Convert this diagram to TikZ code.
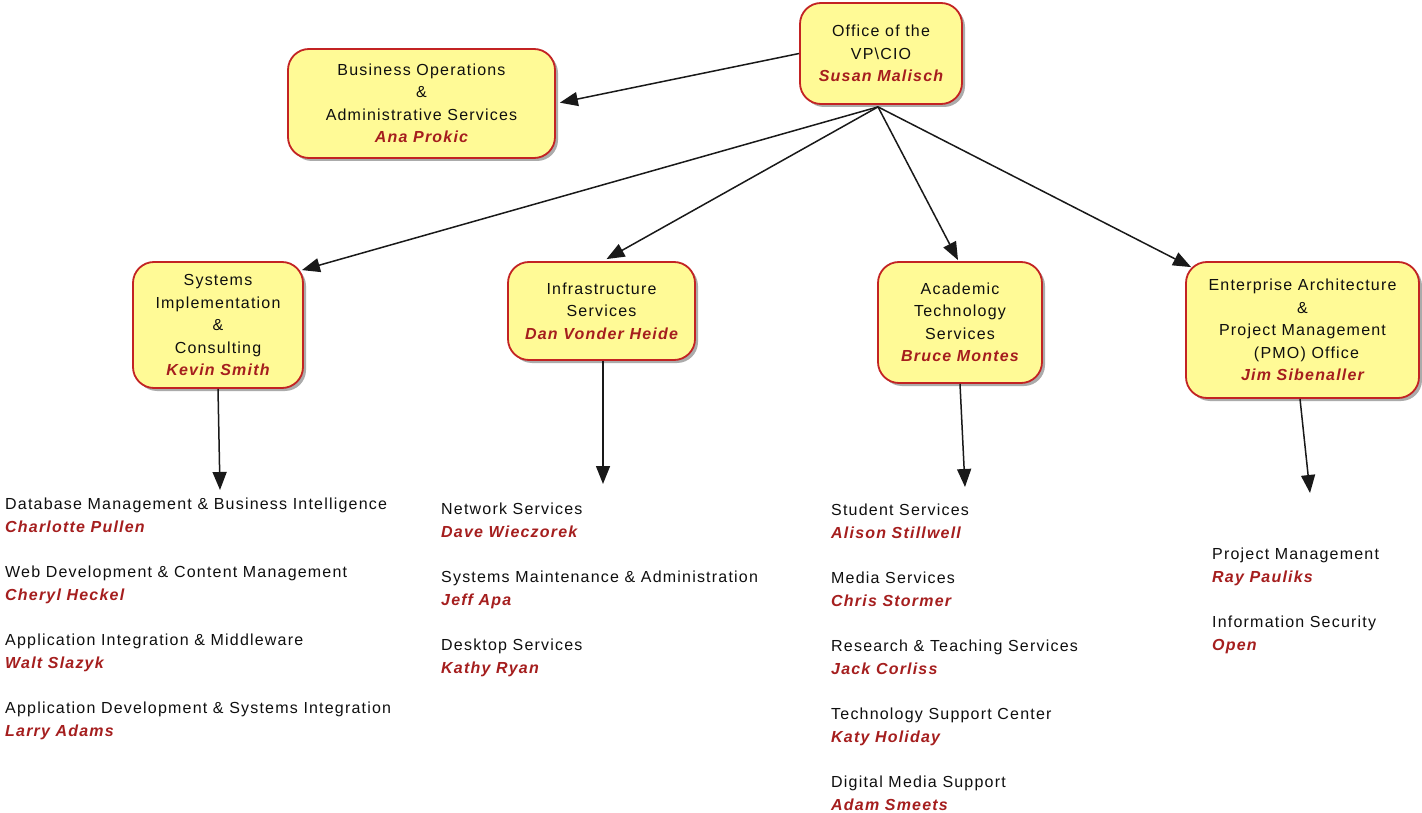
\documentclass[tikz,border=0pt]{standalone}
\usepackage{fontspec}
\setmainfont{Liberation Sans}[LetterSpace=7.5]
\usetikzlibrary{arrows.meta,shadows,calc}
\definecolor{boxfill}{RGB}{255,250,150}
\definecolor{boxred}{RGB}{195,35,35}
\definecolor{namered}{RGB}{165,30,30}
\definecolor{txt}{RGB}{15,15,15}
\newcommand{\nm}[1]{\textcolor{namered}{\bfseries\itshape #1}}
\begin{document}
\begin{tikzpicture}[x=1pt,y=-1pt,
  txtfont/.style={font=\fontsize{16}{22.5}\selectfont, text=txt},
  box/.style={draw=boxred, line width=1.8pt, fill=boxfill, rounded corners=21pt,
    drop shadow={shadow xshift=3pt, shadow yshift=-3pt, fill=black!60, opacity=0.55},
    align=center, txtfont, inner sep=0pt},
  listnode/.style={align=left, txtfont, anchor=north west, inner sep=0pt},
  conn/.style={line width=1.5pt, draw=black!90, -{Triangle[length=18pt,width=14pt]}}
]
\useasboundingbox (0,0) rectangle (1422,813);
\fill[white] (0,0) rectangle (1422,813);

% boxes
\node[box, minimum width=162pt, minimum height=101pt] (office) at (881,53.5)
  {Office of the\\VP\textbackslash CIO\\\nm{Susan Malisch}};
\node[box, minimum width=267pt, minimum height=109pt] (business) at (421.5,103.5)
  {Business Operations\\\&\\Administrative Services\\\nm{Ana Prokic}};
\node[box, minimum width=170pt, minimum height=126pt] (systems) at (218,325)
  {Systems\\Implementation\\\&\\Consulting\\\nm{Kevin Smith}};
\node[box, minimum width=187pt, minimum height=98pt] (infra) at (601.5,311)
  {Infrastructure\\Services\\\nm{Dan Vonder Heide}};
\node[box, minimum width=164pt, minimum height=121pt] (academic) at (960,322.5)
  {Academic\\Technology\\Services\\\nm{Bruce Montes}};
\node[box, minimum width=233pt, minimum height=136pt] (enterprise) at (1302.5,330)
  {Enterprise Architecture\\\&\\Project Management\\\hspace*{8pt}(PMO) Office\\\nm{Jim Sibenaller}};

% lists
\node[listnode] (syslist) at (5,498)
  {Database Management \& Business Intelligence\\\nm{Charlotte Pullen}\\[23pt]
   Web Development \& Content Management\\\nm{Cheryl Heckel}\\[23pt]
   Application Integration \& Middleware\\\nm{Walt Slazyk}\\[23pt]
   Application Development \& Systems Integration\\\nm{Larry Adams}};
\node[listnode] (infralist) at (441,503)
  {Network Services\\\nm{Dave Wieczorek}\\[23pt]
   Systems Maintenance \& Administration\\\nm{Jeff Apa}\\[23pt]
   Desktop Services\\\nm{Kathy Ryan}};
\node[listnode] (acadlist) at (831,504)
  {Student Services\\\nm{Alison Stillwell}\\[23pt]
   Media Services\\\nm{Chris Stormer}\\[23pt]
   Research \& Teaching Services\\\nm{Jack Corliss}\\[23pt]
   Technology Support Center\\\nm{Katy Holiday}\\[23pt]
   Digital Media Support\\\nm{Adam Smeets}};
\node[listnode] (entlist) at (1212,548)
  {Project Management\\\nm{Ray Pauliks}\\[23pt]
   Information Security\\\nm{Open}};

% connector points
\coordinate (hub) at ($(office.south)+(-3,2)$);
\coordinate (sysT) at (220,490);
\coordinate (infT) at (603,484);
\coordinate (acaT) at (965,487);
\coordinate (entT) at (1310,493);

% connectors
\draw[conn, shorten >=4pt] (office.west) -- (business.east);
\draw[conn] (hub) -- ($(systems.north east)+(-2,9)$);
\draw[conn] (hub) -- ($(infra.north)+(5,-2)$);
\draw[conn] (hub) -- ($(academic.north)+(-2,-1)$);
\draw[conn] (hub) -- ($(enterprise.north west)+(6,6)$);
\draw[conn] (systems.south) -- (sysT);
\draw[conn] ($(infra.south)+(1.5,0)$) -- (infT);
\draw[conn] (academic.south) -- (acaT);
\draw[conn] ($(enterprise.south)+(-2.5,0)$) -- (entT);
\end{tikzpicture}
\end{document}
